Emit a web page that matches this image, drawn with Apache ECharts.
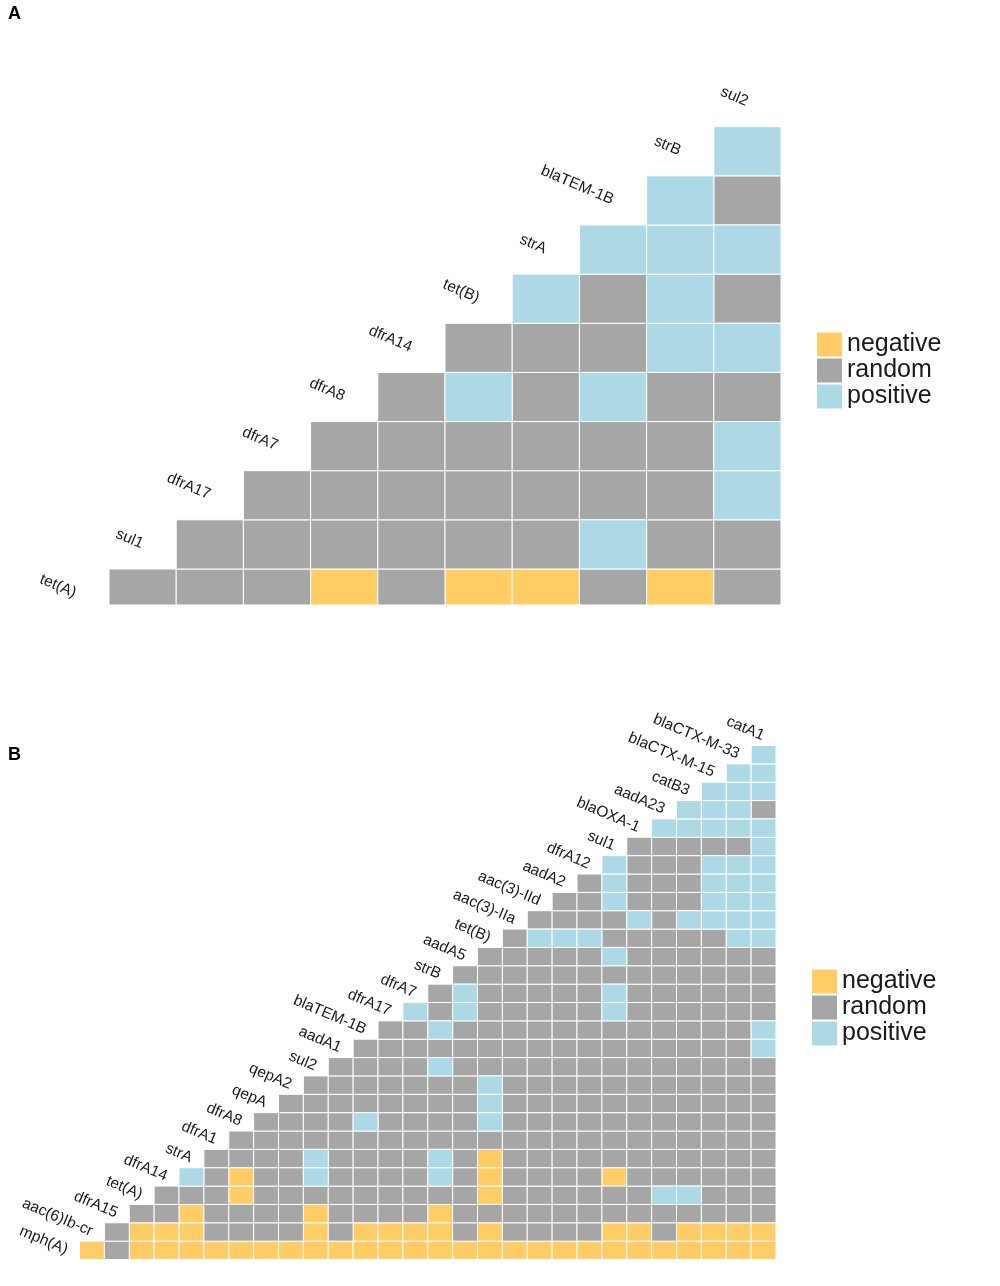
<!DOCTYPE html>
<html>
<head>
<meta charset="utf-8">
<title>Gene co-occurrence</title>
<script src="https://cdn.jsdelivr.net/npm/echarts@6/dist/echarts.min.js"></script>
<style>
  html, body { margin: 0; padding: 0; background: #fff; }
  #chart { width: 1000px; height: 1286px; }
</style>
</head>
<body>
<div id="chart"></div>
<script>
// legend categories and colours
var categories = ['negative', 'random', 'positive'];
var codes = ['n', 'r', 'p'];
var colors = ['#FFCC66', '#A6A6A6', '#ADD8E6'];

// panel A: genes along the diagonal, bottom to top
var genesA = ['tet(A)', 'sul1', 'dfrA17', 'dfrA7', 'dfrA8', 'dfrA14', 'tet(B)', 'strA',
    'blaTEM-1B', 'strB', 'sul2'];
// one string per row (bottom row first), cells from column = row up to the last column
var cellsA = [
    'rrrnrnnrnr',
    'rrrrrrprr',
    'rrrrrrrp',
    'rrrrrrp',
    'rprprr',
    'rrrpp',
    'prpr',
    'ppp',
    'pr',
    'p'
];

// panel B
var genesB = ['mph(A)', 'aac(6)Ib-cr', 'dfrA15', 'tet(A)', 'dfrA14', 'strA', 'dfrA1', 'dfrA8',
    'qepA', 'qepA2', 'sul2', 'aadA1', 'blaTEM-1B', 'dfrA17', 'dfrA7', 'strB', 'aadA5', 'tet(B)',
    'aac(3)-IIa', 'aac(3)-IId', 'aadA2', 'dfrA12', 'sul1', 'blaOXA-1', 'aadA23', 'catB3',
    'blaCTX-M-15', 'blaCTX-M-33', 'catA1'];
var cellsB = [
    'nrnnnnnnnnnnnnnnnnnnnnnnnnnn',
    'rnnnrrrrnrnnnnrnrrrrnnrnnnn',
    'rrnrrrrnrrrrnrrrrrrrrrrrrr',
    'rrrnrrrrrrrrrnrrrrrrpprrr',
    'prnrrprrrrprnrrrrnrrrrrr',
    'rrrrprrrrprnrrrrrrrrrrr',
    'rrrrrrrrrrrrrrrrrrrrrr',
    'rrrrprrrrprrrrrrrrrrr',
    'rrrrrrrrprrrrrrrrrrr',
    'rrrrrrrprrrrrrrrrrr',
    'rrrrprrrrrrrrrrrrr',
    'rrrrrrrrrrrrrrrrp',
    'rrprrrrrrrrrrrrp',
    'prprrrrrprrrrrr',
    'rprrrrrprrrrrr',
    'rrrrrrrrrrrrr',
    'rrrrrprrrrrr',
    'rppprrrrrpp',
    'rrrrprpppp',
    'rrprrrppp',
    'rprrrppp',
    'prrrppp',
    'rrrrrp',
    'ppppp',
    'pppr',
    'ppp',
    'pp',
    'p'
];

var fontFamily = '"Liberation Sans", Arial, sans-serif';

function cellData(rows, code) {
    var out = [];
    rows.forEach(function (s, r) {
        for (var i = 0; i < s.length; i++) {
            if (s[i] === code) {
                out.push([r + i, r]);
            }
        }
    });
    return out;
}

function renderCell(params, api) {
    var x = api.value(0);
    var y = api.value(1);
    var p0 = api.coord([x - 0.5, y + 0.5]);
    var p1 = api.coord([x + 0.5, y - 0.5]);
    var rect = echarts.graphic.clipRectByRect({
        x: p0[0], y: p0[1], width: p1[0] - p0[0], height: p1[1] - p0[1]
    }, {
        x: params.coordSys.x, y: params.coordSys.y,
        width: params.coordSys.width, height: params.coordSys.height
    });
    if (!rect) return;
    return {
        type: 'rect',
        shape: rect,
        style: { fill: api.visual('color'), stroke: '#ffffff', lineWidth: 1 }
    };
}

function labelRenderer(genes) {
    return function (params, api) {
        var pt = api.coord([api.value(0), api.value(1)]);
        return {
            type: 'text',
            x: pt[0],
            y: pt[1],
            rotation: -23 * Math.PI / 180,
            style: {
                text: genes[params.dataIndex],
                fill: '#1a1a1a',
                font: '15.5px ' + fontFamily,
                align: 'right',
                verticalAlign: 'middle'
            }
        };
    };
}

var series = [];
[cellsA, cellsB].forEach(function (rows, g) {
    categories.forEach(function (name, c) {
        series.push({
            name: name,
            type: 'custom',
            xAxisIndex: g,
            yAxisIndex: g,
            renderItem: renderCell,
            itemStyle: { color: colors[c] },
            silent: true,
            data: cellData(rows, codes[c])
        });
    });
});
[genesA, genesB].forEach(function (genes, g) {
    series.push({
        type: 'custom',
        xAxisIndex: g,
        yAxisIndex: g,
        renderItem: labelRenderer(genes),
        silent: true,
        data: genes.map(function (name, k) { return [k - 1, k]; })
    });
});

function legendAt(left, top) {
    return {
        data: categories,
        left: left,
        top: top,
        orient: 'vertical',
        icon: 'rect',
        itemWidth: 25,
        itemHeight: 24,
        itemGap: 1,
        padding: 0,
        selectedMode: false,
        textStyle: { fontSize: 25, lineHeight: 24, color: '#1a1a1a', fontFamily: fontFamily }
    };
}

var chart = echarts.init(document.getElementById('chart'));
chart.setOption({
    animation: false,
    backgroundColor: '#ffffff',
    grid: [
        { left: 109, top: 126.7, width: 672, height: 478.3 },
        { left: 79.5, top: 745.5, width: 696.5, height: 514 }
    ],
    xAxis: [
        { type: 'value', gridIndex: 0, min: -0.5, max: 9.5, show: false },
        { type: 'value', gridIndex: 1, min: -0.5, max: 27.5, show: false }
    ],
    yAxis: [
        { type: 'value', gridIndex: 0, min: -0.233, max: 9.5, show: false },
        { type: 'value', gridIndex: 1, min: -0.5, max: 27.5, show: false }
    ],
    legend: [legendAt(817, 332), legendAt(812, 969)],
    graphic: [
        { type: 'text', left: 8, top: 5, style: { text: 'A', font: 'bold 18px ' + fontFamily, fill: '#000' } },
        { type: 'text', left: 8, top: 746, style: { text: 'B', font: 'bold 18px ' + fontFamily, fill: '#000' } }
    ],
    series: series
});
</script>
</body>
</html>
